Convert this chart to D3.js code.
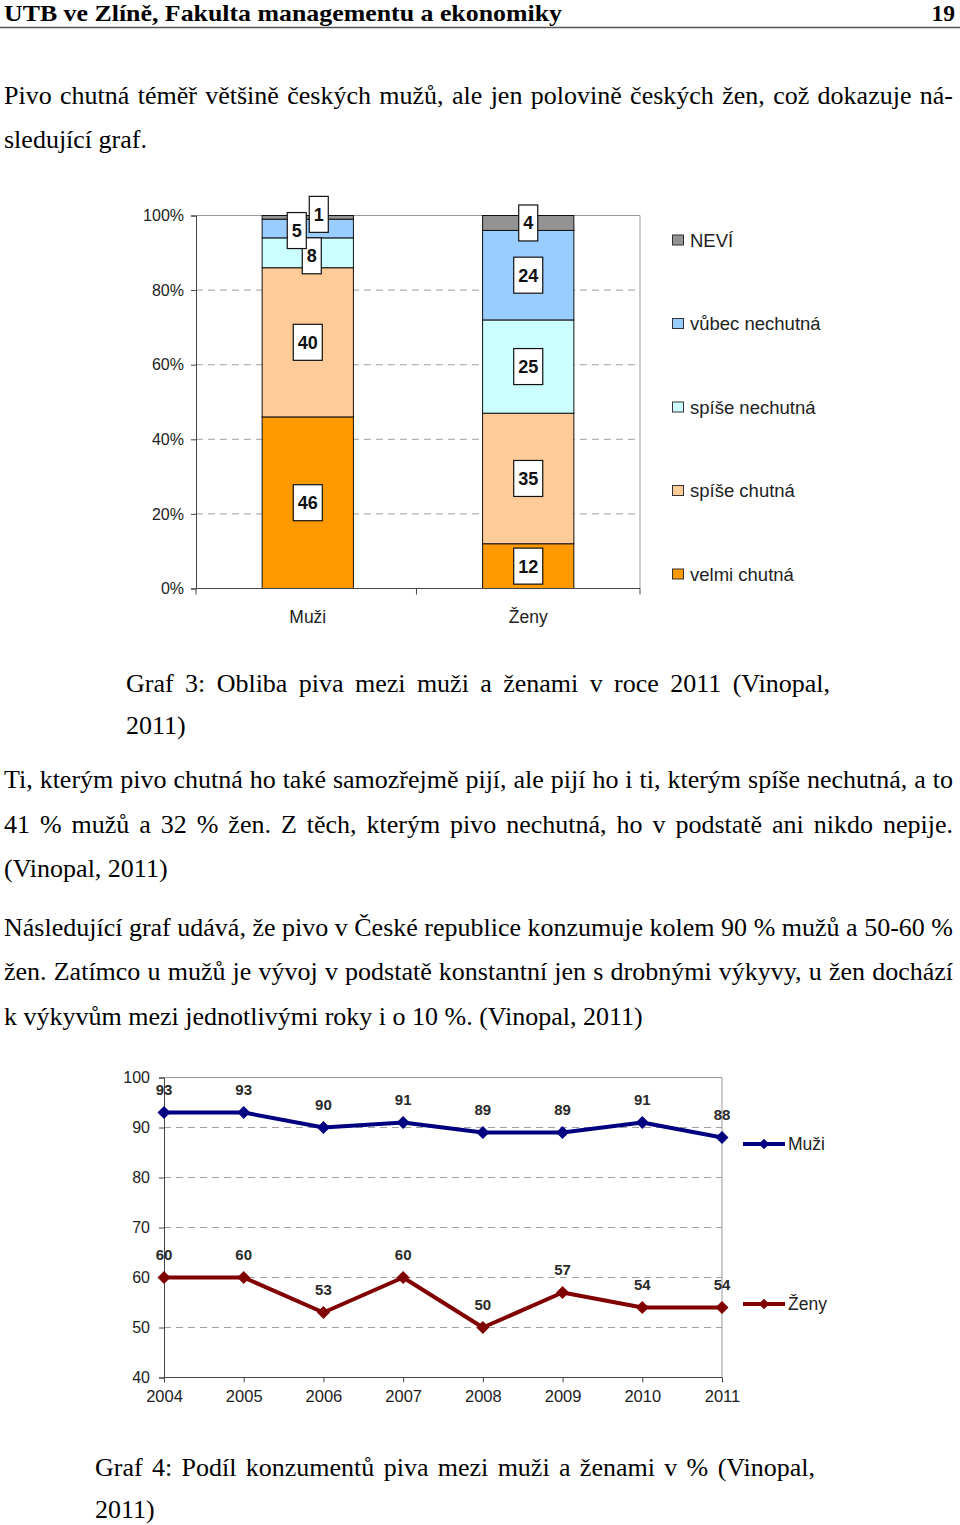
<!DOCTYPE html>
<html><head><meta charset="utf-8">
<script src="https://cdn.jsdelivr.net/npm/d3@7"></script>
<style>body{margin:0;background:#fff} svg{display:block}</style>
</head><body>
<svg id="page" width="960" height="1525"></svg>
<script>
// ---------- DATA ----------
const headerTitle = "UTB ve Zlíně, Fakulta managementu a ekonomiky";
const headerPage = "19";

const para1 = ["Pivo chutná téměř většině českých mužů, ale jen polovině českých žen, což dokazuje ná-", "sledující graf."];
const caption3 = ["Graf 3: Obliba piva mezi muži a ženami v roce 2011 (Vinopal,", "2011)"];
const para2 = ["Ti, kterým pivo chutná ho také samozřejmě pijí, ale pijí ho i ti, kterým spíše nechutná, a to",
               "41 % mužů a 32 % žen. Z těch, kterým pivo nechutná, ho v podstatě ani nikdo nepije.",
               "(Vinopal, 2011)"];
const para3 = ["Následující graf udává, že pivo v České republice konzumuje kolem 90 % mužů a 50-60 %",
               "žen. Zatímco u mužů je vývoj v podstatě konstantní jen s drobnými výkyvy, u žen dochází",
               "k výkyvům mezi jednotlivými roky i o 10 %. (Vinopal, 2011)"];
const caption4 = ["Graf 4: Podíl konzumentů piva mezi muži a ženami v % (Vinopal,", "2011)"];

const barCategories = ["Muži", "Ženy"];
const barSeries = ["velmi chutná", "spíše chutná", "spíše nechutná", "vůbec nechutná", "NEVÍ"];
const barMuzi = [46, 40, 8, 5, 1];
const barZeny = [12, 35, 25, 24, 4];
const barTicks = [0, 20, 40, 60, 80, 100];

const years = [2004, 2005, 2006, 2007, 2008, 2009, 2010, 2011];
const lineMuzi = [93, 93, 90, 91, 89, 89, 91, 88];
const lineZeny = [60, 60, 53, 60, 50, 57, 54, 54];
const lineTicks = [40, 50, 60, 70, 80, 90, 100];

// ---------- STYLE ----------
const barColors = {"velmi chutná":"#FF9900","spíše chutná":"#FFCC99","spíše nechutná":"#CCFFFF","vůbec nechutná":"#99CCFF","NEVÍ":"#939393"};
const lineColors = {"Muži":"#000080","Ženy":"#800000"};
const labelNudge = {"Muži|spíše nechutná":[4,3],"Muži|vůbec nechutná":[-11,2],"Muži|NEVÍ":[11,-3]};

const svg = d3.select("#page");
const serif = "'Liberation Serif','Times New Roman',serif";
const sans = "'Liberation Sans',Arial,sans-serif";

// ---------- TEXT HELPERS ----------
function textLine(str, x, y, width, opts={}) {
  const size = opts.size || 26;
  const g = svg.append("text").attr("x", x).attr("y", y)
    .style("font-family", opts.family || serif).style("font-size", size + "px")
    .style("font-weight", opts.weight || "normal").attr("fill", "#000");
  if (!width) { g.text(str); return g; }
  const words = str.split(" ");
  const widths = words.map(w => {
    const t = svg.append("text").style("font-family", opts.family || serif)
      .style("font-size", size + "px").style("font-weight", opts.weight || "normal").text(w);
    const l = t.node().getComputedTextLength(); t.remove(); return l;
  });
  const total = d3.sum(widths);
  const gap = (width - total) / (words.length - 1);
  let cx = x;
  words.forEach((w, i) => {
    g.append("tspan").attr("x", cx).attr("y", y).text(w);
    cx += widths[i] + gap;
  });
  return g;
}

// header
svg.append("text").attr("x", 4).attr("y", 21).text(headerTitle)
  .style("font-family", serif).style("font-size", "23.5px").style("font-weight", "bold")
  .attr("textLength", 558).attr("lengthAdjust", "spacingAndGlyphs");
svg.append("text").attr("x", 955).attr("y", 21).attr("text-anchor", "end").text(headerPage)
  .style("font-family", serif).style("font-size", "23.5px").style("font-weight", "bold");
svg.append("line").attr("x1", 0).attr("x2", 960).attr("y1", 27.5).attr("y2", 27.5)
  .attr("stroke", "#555").attr("stroke-width", 1.5);

textLine(para1[0], 4, 104, 949);
textLine(para1[1], 4, 148);
textLine(caption3[0], 126, 692, 704);
textLine(caption3[1], 126, 734);
textLine(para2[0], 4, 788, 949);
textLine(para2[1], 4, 833, 949);
textLine(para2[2], 4, 877);
textLine(para3[0], 4, 936, 949);
textLine(para3[1], 4, 980, 949);
textLine(para3[2], 4, 1025);
textLine(caption4[0], 95, 1476, 720);
textLine(caption4[1], 95, 1518);

// ---------- BAR CHART ----------
(function(){
  const x = d3.scaleBand().domain(barCategories).range([196, 640]).paddingInner(0.586).paddingOuter(0.3);
  const y = d3.scaleLinear().domain([0, 100]).range([588.5, 215.5]);
  const rows = barCategories.map((c, i) => {
    const vals = i === 0 ? barMuzi : barZeny;
    const r = {cat: c}; barSeries.forEach((s, j) => r[s] = vals[j]); return r;
  });
  const stacked = d3.stack().keys(barSeries)(rows);
  const g = svg.append("g");

  g.append("g").selectAll("line").data(barTicks.filter(t => t > 0 && t < 100)).join("line")
    .attr("x1", 196).attr("x2", 640).attr("y1", d => y(d)).attr("y2", d => y(d))
    .attr("stroke", "#a0a0a0").attr("stroke-dasharray", "7,5");
  g.append("line").attr("x1", 196).attr("x2", 640).attr("y1", y(100)).attr("y2", y(100)).attr("stroke", "#999");
  g.append("line").attr("x1", 640).attr("x2", 640).attr("y1", y(100)).attr("y2", y(0)).attr("stroke", "#999");

  stacked.forEach(layer => {
    g.append("g").selectAll("rect").data(layer).join("rect")
      .attr("x", d => x(d.data.cat)).attr("width", x.bandwidth())
      .attr("y", d => y(d[1])).attr("height", d => y(d[0]) - y(d[1]))
      .attr("fill", barColors[layer.key]).attr("stroke", "#111").attr("stroke-width", 1);
  });

  const ya = g.append("g").attr("transform", "translate(196,0)")
    .call(d3.axisLeft(y).tickValues(barTicks).tickFormat(d => d + "%").tickSize(5).tickPadding(7));
  ya.select(".domain").attr("stroke", "#444");
  ya.selectAll(".tick line").attr("stroke", "#444");
  ya.selectAll("text").style("font-family", sans).style("font-size", "16px").attr("fill", "#222");

  const xa = g.append("g").attr("transform", `translate(0,${y(0)})`)
    .call(d3.axisBottom(x).tickSize(0).tickPadding(22));
  xa.select(".domain").attr("stroke", "#444").attr("d", "M196,0H640");
  xa.selectAll("text").style("font-family", sans).style("font-size", "17.5px").attr("fill", "#222");
  const bounds = [196, 196 + x.step(), 640];
  g.append("g").selectAll("line").data(bounds).join("line")
    .attr("x1", d => d).attr("x2", d => d).attr("y1", y(0)).attr("y2", y(0) + 6).attr("stroke", "#444");

  const lab = g.append("g");
  stacked.forEach(layer => {
    layer.forEach(d => {
      const key = d.data.cat + "|" + layer.key;
      const n = labelNudge[key] || [0, 0];
      const cx = x(d.data.cat) + x.bandwidth() / 2 + n[0];
      const cy = (y(d[0]) + y(d[1])) / 2 + n[1];
      const lg = lab.append("g");
      const r = lg.append("rect");
      const t = lg.append("text").attr("x", cx).attr("y", cy).attr("dy", "0.36em")
        .attr("text-anchor", "middle").style("font-family", sans).style("font-size", "18px")
        .style("font-weight", "bold").attr("fill", "#111").text(d.data[layer.key]);
      const tw = t.node().getComputedTextLength();
      const bw = tw + 9, bh = 36;
      r.attr("x", cx - bw / 2).attr("y", cy - bh / 2).attr("width", bw).attr("height", bh)
        .attr("fill", "#fff").attr("stroke", "#111").attr("stroke-width", 1.2);
    });
  });

  const ly = d3.scalePoint().domain(barSeries.slice().reverse()).range([240, 574]);
  const lgd = g.append("g");
  barSeries.forEach(s => {
    lgd.append("rect").attr("x", 672.5).attr("y", ly(s) - 5).attr("width", 11).attr("height", 10)
      .attr("fill", barColors[s]).attr("stroke", "#333").attr("stroke-width", 1);
    lgd.append("text").attr("x", 690).attr("y", ly(s)).attr("dy", "0.36em").text(s)
      .style("font-family", sans).style("font-size", "18.5px").attr("fill", "#222");
  });
})();

// ---------- LINE CHART ----------
(function(){
  const x = d3.scalePoint().domain(years).range([164, 722]);
  const y = d3.scaleLinear().domain([40, 100]).range([1377.5, 1077.5]);
  const g = svg.append("g");

  g.append("g").selectAll("line").data(lineTicks.filter(t => t > 40 && t < 100)).join("line")
    .attr("x1", 164).attr("x2", 722).attr("y1", d => y(d)).attr("y2", d => y(d))
    .attr("stroke", "#a0a0a0").attr("stroke-dasharray", "7,5");
  g.append("line").attr("x1", 164).attr("x2", 722).attr("y1", y(100)).attr("y2", y(100)).attr("stroke", "#999");
  g.append("line").attr("x1", 722).attr("x2", 722).attr("y1", y(100)).attr("y2", y(40)).attr("stroke", "#999");

  const ya = g.append("g").attr("transform", "translate(164,0)")
    .call(d3.axisLeft(y).tickValues(lineTicks).tickSize(5).tickPadding(9));
  ya.select(".domain").attr("stroke", "#444");
  ya.selectAll(".tick line").attr("stroke", "#444");
  ya.selectAll("text").style("font-family", sans).style("font-size", "16px").attr("fill", "#222");

  const xa = g.append("g").attr("transform", `translate(0,${y(40)})`)
    .call(d3.axisBottom(x).tickSize(5).tickPadding(8));
  xa.select(".domain").attr("stroke", "#444").attr("d", "M164,0H722");
  xa.selectAll(".tick line").attr("stroke", "#444");
  xa.selectAll("text").style("font-family", sans).style("font-size", "16.5px").attr("fill", "#222");

  const diamond = "M0,-6.5L6.5,0L0,6.5L-6.5,0Z";
  const series = [["Muži", lineMuzi, 1144], ["Ženy", lineZeny, 1304]];
  series.forEach(([name, vals, legY]) => {
    const col = lineColors[name];
    const pts = years.map((yr, i) => [yr, vals[i]]);
    g.append("path").datum(pts)
      .attr("d", d3.line().x(d => x(d[0])).y(d => y(d[1])))
      .attr("fill", "none").attr("stroke", col).attr("stroke-width", 4).attr("stroke-linejoin", "round");
    g.append("g").selectAll("path").data(pts).join("path")
      .attr("d", diamond).attr("transform", d => `translate(${x(d[0])},${y(d[1])})`).attr("fill", col);
    g.append("g").selectAll("text").data(pts).join("text")
      .attr("x", d => x(d[0])).attr("y", d => y(d[1]) - 18).attr("text-anchor", "middle")
      .style("font-family", sans).style("font-size", "15px").style("font-weight", "bold")
      .attr("fill", "#2a2a2a").text(d => d[1]);
    g.append("line").attr("x1", 743).attr("x2", 785).attr("y1", legY).attr("y2", legY)
      .attr("stroke", col).attr("stroke-width", 4);
    g.append("path").attr("d", diamond).attr("transform", `translate(764,${legY}) scale(0.8)`).attr("fill", col);
    g.append("text").attr("x", 788).attr("y", legY).attr("dy", "0.36em").text(name)
      .style("font-family", sans).style("font-size", "17.5px").attr("fill", "#222");
  });
})();
</script>
</body></html>
